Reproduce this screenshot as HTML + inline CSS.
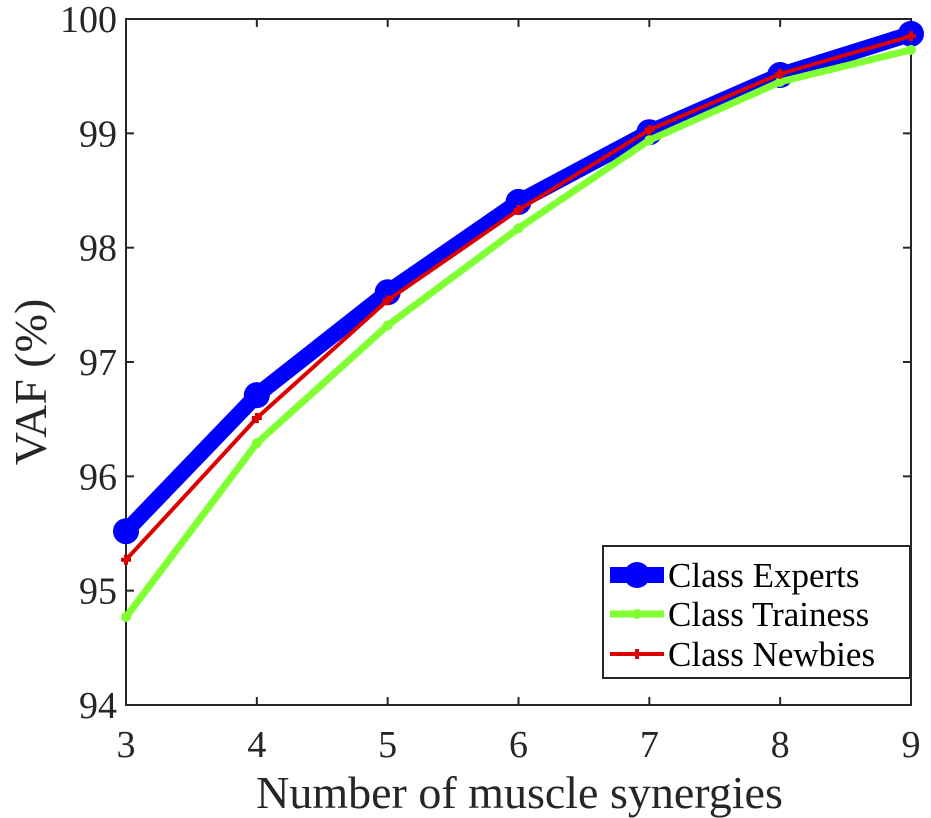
<!DOCTYPE html>
<html><head><meta charset="utf-8"><style>
html,body{margin:0;padding:0;background:#fff;}
svg{display:block;font-family:"Liberation Serif",serif;}
</style></head><body>
<svg id="chart" width="931" height="818" viewBox="0 0 931 818">
<g id="plot"></g>
</svg>
<script>
const categories = [3,4,5,6,7,8,9];
const experts = [95.52,96.71,97.61,98.40,99.01,99.51,99.87];
const trainees = [94.77,96.29,97.32,98.17,98.94,99.45,99.73];
const newbies = [95.27,96.51,97.54,98.33,99.03,99.52,99.85];
const yTicks = [94,95,96,97,98,99,100];
const xTicks = [3,4,5,6,7,8,9];
const seriesNames = ["Class Experts","Class Trainess","Class Newbies"];

const L=126,R=911,T=19,B=705;
const xs=v=>L+(v-3)/(9-3)*(R-L);
const ys=v=>B-(v-94)/(100-94)*(B-T);
const NS="http://www.w3.org/2000/svg";
const g=document.getElementById('plot');
function mk(tag,attrs,parent){const e=document.createElementNS(NS,tag);for(const k in attrs)e.setAttribute(k,attrs[k]);(parent||g).appendChild(e);return e;}

const box=mk('rect',{x:L,y:T,width:R-L,height:B-T,fill:'none',stroke:'#262626','stroke-width':2});


yTicks.forEach(v=>{
  const y=ys(v);
  const t1=mk('line',{x1:L,x2:L+8,y1:y,y2:y,stroke:'#262626','stroke-width':2});
  
  
  const t2=mk('line',{x1:R,x2:R-8,y1:y,y2:y,stroke:'#262626','stroke-width':2});
  
  
  const tx=mk('text',{x:L-9,y:y+13,'text-anchor':'end','font-size':38,fill:'#262626'});
  tx.textContent=v;
  
  
});
xTicks.forEach(v=>{
  const x=xs(v);
  const t1=mk('line',{x1:x,x2:x,y1:B,y2:B-8,stroke:'#262626','stroke-width':2});
  
  
  const t2=mk('line',{x1:x,x2:x,y1:T,y2:T+8,stroke:'#262626','stroke-width':2});
  
  
  const tx=mk('text',{x:x,y:B+52,'text-anchor':'middle','font-size':38,fill:'#262626'});
  tx.textContent=v;
  
  
});
const xl=mk('text',{x:(L+R)/2+1,y:808,'text-anchor':'middle','font-size':46,fill:'#262626'});
xl.textContent='Number of muscle synergies';


const yl=mk('text',{x:0,y:0,'text-anchor':'middle','font-size':46,fill:'#262626',transform:`translate(46,${(T+B)/2+20}) rotate(-90)`});
yl.textContent='VAF (%)';



function pts(arr){return arr.map((v,i)=>xs(categories[i])+','+ys(v)).join(' ');}
const le=mk('polyline',{points:pts(experts),fill:'none',stroke:'#0000ff','stroke-width':16,'stroke-linejoin':'round'});


experts.forEach((v,i)=>{const c=mk('circle',{cx:xs(categories[i]),cy:ys(v),r:13,fill:'#0000ff'});

});
const lt=mk('polyline',{points:pts(trainees),fill:'none',stroke:'#80ff33','stroke-width':7,'stroke-linejoin':'round'});


trainees.forEach((v,i)=>{const c=mk('circle',{cx:xs(categories[i]),cy:ys(v),r:5,fill:'#80ff33'});

});
const ln=mk('polyline',{points:pts(newbies),fill:'none',stroke:'#dd0000','stroke-width':4,'stroke-linejoin':'round'});


newbies.forEach((v,i)=>{const x=xs(categories[i]),y=ys(v);
const p=mk('path',{d:`M${x-5},${y}H${x+5}M${x},${y-5}V${y+5}`,stroke:'#dd0000','stroke-width':4});

});

const lg=mk('g',{});


mk('rect',{x:603,y:546,width:307,height:132,fill:'#fff',stroke:'#262626','stroke-width':2},lg);
const ly=[575,614,654];
const e1=mk('g',{},lg);


mk('line',{x1:610,x2:664,y1:ly[0],y2:ly[0],stroke:'#0000ff','stroke-width':16},e1);
mk('circle',{cx:637,cy:ly[0],r:13,fill:'#0000ff'},e1);
const e2=mk('g',{},lg);


mk('line',{x1:610,x2:664,y1:ly[1],y2:ly[1],stroke:'#80ff33','stroke-width':7},e2);
mk('circle',{cx:637,cy:ly[1],r:5,fill:'#80ff33'},e2);
const e3=mk('g',{},lg);


mk('line',{x1:610,x2:664,y1:ly[2],y2:ly[2],stroke:'#dd0000','stroke-width':4},e3);
mk('path',{d:`M632,${ly[2]}H642M637,${ly[2]-5}V${ly[2]+5}`,stroke:'#dd0000','stroke-width':4},e3);
[e1,e2,e3].forEach((e,i)=>{const t=mk('text',{x:668,y:ly[i]+12,'font-size':35,fill:'#000'},e);t.textContent=seriesNames[i];});
</script>
</body></html>
